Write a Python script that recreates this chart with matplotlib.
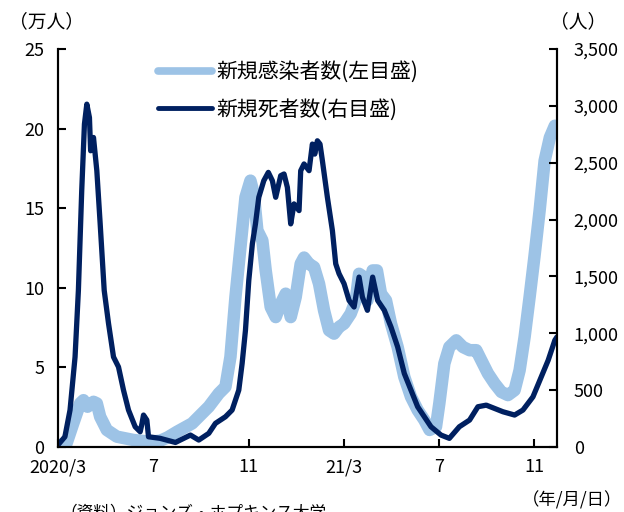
import matplotlib
matplotlib.use("Agg")
from matplotlib import pyplot as plt
from matplotlib.lines import Line2D

plt.rcParams['font.family'] = ['Noto Sans CJK JP', 'DejaVu Sans']

# months since 2020/3/1
case_month = [0, 0.36, 0.64, 0.93, 1.07, 1.24, 1.49, 1.63, 1.77, 2.05,
              2.47, 3.17, 3.87, 4.3, 4.6, 5.0, 5.63, 6.33, 6.75, 7.03,
              7.24, 7.45, 7.66, 7.87, 8.08, 8.22, 8.37, 8.58, 8.72, 8.93,
              9.14, 9.35, 9.56, 9.77, 9.98, 10.19, 10.33, 10.54, 10.75, 10.96,
              11.17, 11.38, 11.59, 11.80, 12.01, 12.29, 12.5, 12.64, 12.85, 12.99,
              13.21, 13.39, 13.56, 13.77, 13.98, 14.26, 14.54, 14.82, 15.1, 15.38,
              15.6, 15.87, 16.01, 16.22, 16.43, 16.72, 17.0, 17.28, 17.56, 17.77,
              18.05, 18.33, 18.61, 18.89, 19.17, 19.38, 19.59, 19.8, 20.0, 20.22,
              20.43, 20.65, 20.86, 20.95]
# new cases (10k people)
case_values = [0.1, 0.23, 1.48, 2.74, 2.94, 2.53, 2.84, 2.74, 1.9, 1.07,
               0.65, 0.44, 0.33, 0.4, 0.6, 0.96, 1.48, 2.53, 3.36, 3.78,
               5.66, 9.42, 12.55, 15.68, 16.73, 15.9, 13.6, 12.97, 11.09, 8.79,
               8.16, 9.0, 9.63, 8.16, 9.42, 11.51, 11.9, 11.5, 11.3, 10.25,
               8.58, 7.33, 7.12, 7.54, 7.75, 8.38, 9.21, 10.88, 10.67, 9.21,
               11.09, 11.09, 9.63, 9.21, 7.75, 6.28, 4.4, 3.15, 2.32, 1.69,
               1.07, 1.27, 2.74, 5.24, 6.28, 6.7, 6.28, 6.08, 6.08, 5.45,
               4.62, 3.99, 3.46, 3.26, 3.57, 4.82, 6.91, 9.42, 11.92, 14.85,
               17.98, 19.44, 20.18, 19.86]

death_month = [0, 0.29, 0.505, 0.716, 0.856, 0.996, 1.11, 1.21, 1.32, 1.37,
               1.49, 1.63, 1.77, 1.94, 2.12, 2.33, 2.54, 2.75, 2.96, 3.24,
               3.45, 3.52, 3.59, 3.73, 3.80, 4.29, 4.93, 5.56, 5.91, 6.33,
               6.61, 7.03, 7.31, 7.59, 7.73, 7.87, 8.01, 8.16, 8.29, 8.43,
               8.64, 8.83, 9.0, 9.14, 9.35, 9.49, 9.63, 9.77, 9.91, 10.12,
               10.19, 10.33, 10.54, 10.68, 10.78, 10.89, 11.0, 11.1, 11.31, 11.52,
               11.66, 11.80, 12.01, 12.22, 12.43, 12.64, 12.78, 12.99, 13.21, 13.42,
               13.7, 13.98, 14.26, 14.54, 14.82, 15.1, 15.38, 15.66, 16.08, 16.43,
               16.85, 17.28, 17.63, 17.98, 18.33, 18.68, 19.17, 19.52, 19.94, 20.29,
               20.58, 20.86, 20.95]
# new deaths (people)
death_values = [18, 90, 325, 792, 1377, 2254, 2840, 3015, 2897, 2605,
                2722, 2430, 1965, 1377, 1088, 792, 704, 500, 325, 178,
                134, 200, 281, 237, 90, 76, 40, 105, 61, 120,
                208, 266, 325, 500, 734, 1026, 1465, 1787, 1962, 2196,
                2342, 2415, 2342, 2196, 2386, 2401, 2283, 1962, 2138, 2079,
                2430, 2489, 2430, 2664, 2576, 2693, 2664, 2518, 2196, 1904,
                1611, 1524, 1436, 1289, 1231, 1494, 1318, 1202, 1494, 1289,
                1202, 1055, 880, 646, 500, 354, 266, 178, 105, 76,
                178, 237, 354, 368, 339, 310, 281, 325, 441, 617,
                763, 939, 968]

x_ticks = [0, 4, 8, 12, 16, 20]
x_labels = ['2020/3', '7', '11', '21/3', '7', '11']
left_ticks = [0, 5, 10, 15, 20, 25]
right_ticks = [0, 500, 1000, 1500, 2000, 2500, 3000, 3500]

light = '#9DC3E6'
navy = '#002060'

fig = plt.figure(figsize=(6.24, 5.12), dpi=100)
ax = fig.add_axes([58/624, 1 - 447/512, (557-58)/624, (447-49)/512])
ax2 = ax.twinx()

ax.plot(case_month, case_values, color=light, lw=9,
        solid_capstyle='round', solid_joinstyle='round')
ax2.plot(death_month, death_values, color=navy, lw=3.8,
         solid_capstyle='round', solid_joinstyle='round')

ax.set_xlim(0, 20.95)
ax.set_ylim(0, 25)
ax2.set_ylim(0, 3500)
ax.set_xticks(x_ticks)
ax.set_xticklabels(x_labels)
ax.set_yticks(left_ticks)
ax2.set_yticks(right_ticks)
ax2.set_yticklabels([f'{v:,}' for v in right_ticks])

for a in (ax, ax2):
    a.spines['top'].set_visible(False)
    for s in ('left', 'right', 'bottom'):
        a.spines[s].set_linewidth(1.5)
ax.tick_params(axis='both', direction='in', length=6, width=1.5,
               labelsize=13, pad=10)
ax.tick_params(axis='x', pad=8)
ax2.tick_params(axis='y', direction='in', length=6, width=1.5,
                labelsize=13, pad=12)

fig.text(9/624, 1 - 22/512, '（万人）', fontsize=13.5, va='center', ha='left')
fig.text(550/624, 1 - 22/512, '（人）', fontsize=13.5, va='center', ha='left')
fig.text(622/624, 1 - 500/512, '（年/月/日）', fontsize=12.5, va='center', ha='right')
fig.text(60/624, 1 - 504/512, '（資料）ジョンズ・ホプキンス大学', fontsize=12,
         va='top', ha='left')

handles = [Line2D([], [], color=light, lw=5.5, solid_capstyle='round'),
           Line2D([], [], color=navy, lw=3.5, solid_capstyle='round')]
ax2.legend(handles, ['新規感染者数(左目盛)', '新規死者数(右目盛)'],
           loc='upper left', bbox_to_anchor=(158/624, 1 - 61/512),
           bbox_transform=fig.transFigure, frameon=False, fontsize=15,
           handlelength=2.6, handletextpad=0.2, labelspacing=0.75,
           borderpad=0, borderaxespad=0)

fig.savefig('out.png', dpi=100)
